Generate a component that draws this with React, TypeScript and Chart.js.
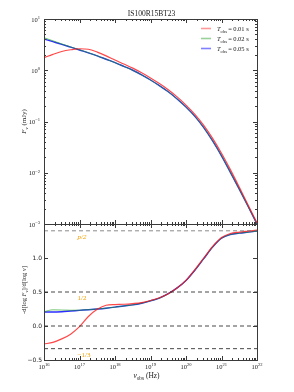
import { useEffect, useRef } from "react";
import { Chart, registerables } from "chart.js";

Chart.register(...registerables);

// ---------- data ----------
const logNu = [16, 16.25, 16.5, 16.75, 17, 17.25, 17.5, 17.75, 18, 18.25, 18.5, 18.75, 19, 19.25, 19.5, 19.75, 20, 20.25, 20.5, 20.75, 21, 21.25, 21.5, 21.75, 22];

// F_nu (mJy)
const fluxT001 = [1.76, 2.04, 2.32, 2.51, 2.63, 2.57, 2.26, 1.91, 1.58, 1.32, 1.10, 0.891, 0.708, 0.550, 0.417, 0.302, 0.209, 0.138, 0.0841, 0.0468, 0.0240, 0.0115, 0.00525, 0.00234, 0.00105];
const fluxT002 = [4.32, 3.76, 3.27, 2.85, 2.51, 2.20, 1.91, 1.64, 1.41, 1.19, 1.00, 0.813, 0.646, 0.501, 0.380, 0.275, 0.191, 0.126, 0.0759, 0.0417, 0.0214, 0.0102, 0.00479, 0.00219, 0.00100];
const fluxT005 = [4.07, 3.61, 3.20, 2.82, 2.48, 2.19, 1.91, 1.64, 1.41, 1.19, 1.00, 0.813, 0.646, 0.501, 0.380, 0.275, 0.191, 0.126, 0.0759, 0.0417, 0.0214, 0.0102, 0.00479, 0.00219, 0.00100];

// -d[log F]/d[log nu]
const slopeT001 = [-0.265, -0.24, -0.19, -0.12, -0.01, 0.14, 0.245, 0.305, 0.315, 0.32, 0.33, 0.345, 0.375, 0.415, 0.475, 0.56, 0.67, 0.83, 1.0, 1.17, 1.30, 1.36, 1.38, 1.395, 1.41];
const slopeT002 = [0.21, 0.238, 0.235, 0.232, 0.233, 0.24, 0.25, 0.262, 0.277, 0.295, 0.31, 0.335, 0.37, 0.41, 0.475, 0.56, 0.67, 0.82, 0.99, 1.16, 1.29, 1.345, 1.365, 1.38, 1.395];
const slopeT005 = [0.205, 0.205, 0.21, 0.22, 0.23, 0.24, 0.25, 0.262, 0.277, 0.295, 0.31, 0.335, 0.37, 0.41, 0.475, 0.56, 0.67, 0.82, 0.99, 1.16, 1.29, 1.345, 1.365, 1.38, 1.395];

const seriesTobs = ["0.01", "0.02", "0.05"];
const fluxSeries = [fluxT001, fluxT002, fluxT005];
const slopeSeries = [slopeT001, slopeT002, slopeT005];

const xTickExps = [16, 17, 18, 19, 20, 21, 22];
const yTopTickExps = [-3, -2, -1, 0, 1];
const yBotTicks = [-0.5, 0, 0.5, 1.0, 1.5];
const yBotTickLabels = ["\u22120.5", "0.0", "0.5", "1.0", ""];

const refLineValues = [1.4, 0.5, 0, -1 / 3];
const refLineLabels = ["p/2", "1/2", "", "\u22121/3"];

const titleText = "IS100R15BT23";

// ---------- styles ----------
const COLORS = ["rgba(255,20,20,0.78)", "rgba(20,160,20,0.75)", "rgb(45,45,255)"];
const WIDTHS = [1.2, 0.8, 1.4];
const LEGEND_COLORS = ["rgba(255,0,0,0.4)", "rgba(0,140,0,0.4)", "rgba(0,0,255,0.5)"];
const SERIF = '"Liberation Serif", "DejaVu Serif", serif';
const SANS = '"DejaVu Sans", sans-serif';
const AXIS_COLOR = "#3a3a3a";
const ORANGE = "#f2a000";

type Part = { t: string; it?: boolean; sub?: boolean; sup?: boolean };

function partFont(p: Part, size: number, family: string) {
  const s = p.sub || p.sup ? size * 0.7 : size;
  return `${p.it ? "italic " : ""}${s}px ${family}`;
}

function drawRich(
  ctx: CanvasRenderingContext2D,
  parts: Part[],
  x: number,
  y: number,
  size: number,
  align: "left" | "center" | "right",
  family = SERIF
) {
  let w = 0;
  for (const p of parts) {
    ctx.font = partFont(p, size, family);
    w += ctx.measureText(p.t).width;
  }
  let cx = align === "center" ? x - w / 2 : align === "right" ? x - w : x;
  ctx.textAlign = "left";
  ctx.textBaseline = "alphabetic";
  for (const p of parts) {
    ctx.font = partFont(p, size, family);
    const dy = p.sub ? size * 0.28 : p.sup ? -size * 0.42 : 0;
    ctx.fillText(p.t, cx, y + dy);
    cx += ctx.measureText(p.t).width;
  }
}

function pow10Parts(e: number): Part[] {
  return [{ t: "10" }, { t: e < 0 ? "\u2212" + Math.abs(e) : String(e), sup: true }];
}

function hLine(ctx: CanvasRenderingContext2D, x0: number, x1: number, y: number) {
  const yy = Math.round(y) + 0.5;
  ctx.beginPath();
  ctx.moveTo(x0, yy);
  ctx.lineTo(x1, yy);
  ctx.stroke();
}
function vLine(ctx: CanvasRenderingContext2D, x: number, y0: number, y1: number) {
  const xx = Math.round(x) + 0.5;
  ctx.beginPath();
  ctx.moveTo(xx, y0);
  ctx.lineTo(xx, y1);
  ctx.stroke();
}

function drawFrameAndXTicks(chart: any) {
  const { ctx, chartArea: a, scales } = chart;
  const xs = scales.x;
  ctx.strokeStyle = AXIS_COLOR;
  ctx.lineWidth = 1;
  ctx.strokeRect(Math.round(a.left) + 0.5, Math.round(a.top) + 0.5, Math.round(a.right - a.left), Math.round(a.bottom - a.top));
  for (const e of xTickExps) {
    for (let m = 1; m <= 9; m++) {
      const v = m * Math.pow(10, e);
      if (v > 1.0001e22) break;
      const px = xs.getPixelForValue(v);
      const len = m === 1 ? 4 : 2;
      vLine(ctx, px, a.top, a.top + len);
      vLine(ctx, px, a.bottom, a.bottom - len);
    }
  }
}

const topDecor = {
  id: "topDecor",
  afterDraw(chart: any) {
    const { ctx, chartArea: a, scales } = chart;
    const ys = scales.y;
    ctx.save();
    drawFrameAndXTicks(chart);
    for (const e of yTopTickExps) {
      for (let m = 1; m <= 9; m++) {
        const v = m * Math.pow(10, e);
        if (v > 10.0001) break;
        const py = ys.getPixelForValue(v);
        const len = m === 1 ? 4 : 2;
        hLine(ctx, a.left, a.left + len, py);
        hLine(ctx, a.right, a.right - len, py);
      }
    }
    ctx.fillStyle = "#222";
    for (const e of yTopTickExps) {
      const py = ys.getPixelForValue(Math.pow(10, e));
      drawRich(ctx, pow10Parts(e), a.left - 4, py + 2.5, 6.5, "right");
    }
    // y label
    ctx.save();
    ctx.translate(26, (a.top + a.bottom) / 2);
    ctx.rotate(-Math.PI / 2);
    drawRich(ctx, [{ t: "F", it: true }, { t: "\u03bd", it: true, sub: true }, { t: " (mJy)" }], 0, 0, 7, "center");
    ctx.restore();
    // title
    ctx.font = `7.5px ${SERIF}`;
    ctx.textAlign = "center";
    ctx.textBaseline = "alphabetic";
    ctx.fillText(titleText, (a.left + a.right) / 2 + 1, a.top - 3);
    // legend
    for (let i = 0; i < seriesTobs.length; i++) {
      const ly = a.top + 9.5 + i * 10;
      ctx.strokeStyle = LEGEND_COLORS[i];
      ctx.lineWidth = 1.6;
      ctx.beginPath();
      ctx.moveTo(a.right - 56, ly);
      ctx.lineTo(a.right - 46, ly);
      ctx.stroke();
      ctx.fillStyle = "#222";
      drawRich(
        ctx,
        [{ t: "T", it: true }, { t: "obs", sub: true }, { t: "\u2009=\u2009" + seriesTobs[i] + " s" }],
        a.right - 40,
        ly + 2.3,
        6.5,
        "left"
      );
    }
    ctx.restore();
  },
};

const botDecor = {
  id: "botDecor",
  afterDraw(chart: any) {
    const { ctx, chartArea: a, scales } = chart;
    const xs = scales.x;
    const ys = scales.y;
    ctx.save();
    drawFrameAndXTicks(chart);
    for (const v of yBotTicks) {
      const py = ys.getPixelForValue(v);
      hLine(ctx, a.left, a.left + 4, py);
      hLine(ctx, a.right, a.right - 4, py);
    }
    ctx.fillStyle = "#222";
    ctx.font = `6px ${SANS}`;
    ctx.textAlign = "right";
    ctx.textBaseline = "middle";
    yBotTicks.forEach((v, i) => {
      if (!yBotTickLabels[i]) return;
      ctx.fillText(yBotTickLabels[i], a.left - 2, ys.getPixelForValue(v));
    });
    for (const e of xTickExps) {
      drawRich(ctx, pow10Parts(e), xs.getPixelForValue(Math.pow(10, e)), a.bottom + 8.5, 6.5, "center");
    }
    // x label
    drawRich(ctx, [{ t: "\u03bd", it: true }, { t: "obs", sub: true }, { t: " (Hz)" }], (a.left + a.right) / 2 - 4, a.bottom + 18, 7.5, "center");
    // y label
    ctx.save();
    ctx.translate(26, (a.top + a.bottom) / 2 - 2);
    ctx.rotate(-Math.PI / 2);
    drawRich(
      ctx,
      [{ t: "-d[log " }, { t: "F", it: true }, { t: "\u03bd", it: true, sub: true }, { t: "]/d[log " }, { t: "\u03bd", it: true }, { t: "]" }],
      0,
      0,
      6.5,
      "center"
    );
    ctx.restore();
    // reference line labels
    ctx.fillStyle = ORANGE;
    refLineValues.forEach((v, i) => {
      const lab = refLineLabels[i];
      if (!lab) return;
      const px = xs.getPixelForValue(1e17) - 2;
      const py = ys.getPixelForValue(v) + 8;
      drawRich(ctx, [{ t: lab, it: lab.startsWith("p") }], px, py, 7, "left");
    });
    ctx.restore();
  },
};

const CANVAS_W = 294;
const CANVAS_H = 392;

export default function App() {
  const topRef = useRef<HTMLCanvasElement | null>(null);
  const botRef = useRef<HTMLCanvasElement | null>(null);

  useEffect(() => {
    const nu = logNu.map((v) => Math.pow(10, v));
    const lineDs = (label: string, vals: number[], i: number) => ({
      label,
      data: nu.map((x, j) => ({ x, y: vals[j] })),
      borderColor: COLORS[i],
      backgroundColor: COLORS[i],
      borderWidth: WIDTHS[i],
      pointRadius: 0,
      fill: false,
      cubicInterpolationMode: "monotone" as const,
    });

    const top = new Chart(topRef.current!, {
      type: "line",
      data: {
        datasets: fluxSeries.map((vals, i) => lineDs(`T_obs=${seriesTobs[i]} s`, vals, i)),
      },
      options: {
        responsive: false,
        animation: false,
        devicePixelRatio: 1,
        layout: { padding: { left: 44, right: 37, top: 19, bottom: 168 } },
        scales: {
          x: { type: "logarithmic", min: 1e16, max: 1e22, display: false },
          y: { type: "logarithmic", min: 1e-3, max: 10, display: false },
        },
        plugins: { legend: { display: false }, tooltip: { enabled: false }, title: { display: false } },
      },
      plugins: [topDecor],
    });

    const refDs = refLineValues.map((v, i) => ({
      label: `ref${i}`,
      data: [
        { x: 1e16, y: v },
        { x: 1e22, y: v },
      ],
      borderColor: i === 0 ? "rgba(110,110,110,0.8)" : "rgba(40,40,40,0.85)",
      borderWidth: 1,
      borderDash: [4, 3],
      pointRadius: 0,
      fill: false,
    }));

    const bot = new Chart(botRef.current!, {
      type: "line",
      data: {
        datasets: [...refDs, ...slopeSeries.map((vals, i) => lineDs(`T_obs=${seriesTobs[i]} s`, vals, i))],
      },
      options: {
        responsive: false,
        animation: false,
        devicePixelRatio: 1,
        layout: { padding: { left: 44, right: 37, top: 224, bottom: 32 } },
        scales: {
          x: { type: "logarithmic", min: 1e16, max: 1e22, display: false },
          y: { type: "linear", min: -0.5, max: 1.5, display: false },
        },
        plugins: { legend: { display: false }, tooltip: { enabled: false }, title: { display: false } },
      },
      plugins: [botDecor],
    });

    return () => {
      top.destroy();
      bot.destroy();
    };
  }, []);

  return (
    <div style={{ position: "fixed", left: 0, top: 0, width: CANVAS_W, height: CANVAS_H, background: "#fff" }}>
      <canvas ref={topRef} width={CANVAS_W} height={CANVAS_H} style={{ position: "absolute", left: 0, top: 0, width: CANVAS_W, height: CANVAS_H }} />
      <canvas ref={botRef} width={CANVAS_W} height={CANVAS_H} style={{ position: "absolute", left: 0, top: 0, width: CANVAS_W, height: CANVAS_H }} />
    </div>
  );
}
